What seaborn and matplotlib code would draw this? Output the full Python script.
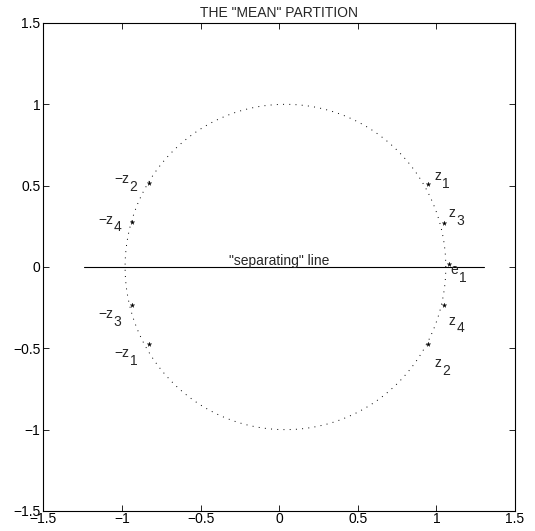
import numpy as np
import pandas as pd
import matplotlib
matplotlib.use("Agg")
import matplotlib.pyplot as plt
import seaborn as sns
from matplotlib import transforms

# ---- data ----
title = 'THE "MEAN" PARTITION'
circle_center = (0.04, 0.0)
circle_radius = (1.02, 1.0)
line_x = [-1.24, 1.30]
line_y = [0.0, 0.0]
line_label = '"separating" line'

point_names = ["z1", "z3", "e1", "z4", "z2", "-z2", "-z4", "-z3", "-z1"]
point_x = [0.944, 1.046, 1.081, 1.050, 0.948, -0.827, -0.933, -0.933, -0.827]
point_y = [0.513, 0.273, 0.017, -0.231, -0.474, 0.517, 0.277, -0.236, -0.476]

label_main = ["z", "z", "e", "z", "z", "\u2212z", "\u2212z", "\u2212z", "\u2212z"]
label_sub = ["1", "3", "1", "4", "2", "2", "4", "3", "1"]
label_x = [0.99, 1.08, 1.09, 1.08, 0.99, -1.05, -1.15, -1.15, -1.05]
label_y = [0.56, 0.33, -0.02, -0.33, -0.59, 0.54, 0.29, -0.29, -0.53]

ticks = [-1.5, -1, -0.5, 0, 0.5, 1, 1.5]
tick_labels = ["\u22121.5", "\u22121", "\u22120.5", "0", "0.5", "1", "1.5"]

# ---- style ----
sns.set_style("white")
plt.rcParams["font.family"] = ["Liberation Sans", "DejaVu Sans"]

fig = plt.figure(figsize=(5.35, 5.31), dpi=100)
ax = fig.add_axes([0.081, 0.0377, 0.8816, 0.919])

t = np.linspace(0, 2 * np.pi, 400)
circ = pd.DataFrame({"x": circle_center[0] + circle_radius[0] * np.cos(t),
                     "y": circle_center[1] + circle_radius[1] * np.sin(t)})
sns.lineplot(data=circ, x="x", y="y", sort=False, estimator=None, ax=ax,
             color="black", lw=0.7, linestyle=(0, (1, 5.4)))

lin = pd.DataFrame({"x": line_x, "y": line_y})
sns.lineplot(data=lin, x="x", y="y", sort=False, estimator=None, ax=ax,
             color="black", lw=0.8)

pts = pd.DataFrame({"x": point_x, "y": point_y, "name": point_names})
sns.scatterplot(data=pts, x="x", y="y", ax=ax, marker="*", s=12,
                color="black", edgecolor="black", linewidth=0.2, zorder=3)

for m, s, lx, ly in zip(label_main, label_sub, label_x, label_y):
    tx = ax.text(lx, ly, m, fontsize=10, ha="left", va="center")
    fig.canvas.draw()
    bb = tx.get_window_extent()
    off = transforms.offset_copy(ax.transData, fig=fig, x=bb.width * 72 / fig.dpi + 0.3,
                                 y=-5.5, units="points")
    ax.text(lx, ly, s, fontsize=10, ha="left", va="center", transform=off)

ax.text(0.0, 0.035, line_label, fontsize=10, ha="center", va="center")

ax.set_xlim(-1.5, 1.5)
ax.set_ylim(-1.5, 1.5)
ax.set_xticks(ticks)
ax.set_yticks(ticks)
ax.set_xticklabels(tick_labels, fontsize=10)
ax.set_yticklabels(tick_labels, fontsize=10)
ax.tick_params(direction="in", length=4, width=0.6, top=True, right=True,
               bottom=True, left=True, pad=2, colors="black")
ax.tick_params(axis="x", pad=0.5)
ax.set_xlabel("")
ax.set_ylabel("")
for sp in ax.spines.values():
    sp.set_visible(True)
    sp.set_color("black")
    sp.set_linewidth(0.8)
ax.set_title(title, fontsize=10, pad=4)

fig.savefig("out.png", dpi=100)
